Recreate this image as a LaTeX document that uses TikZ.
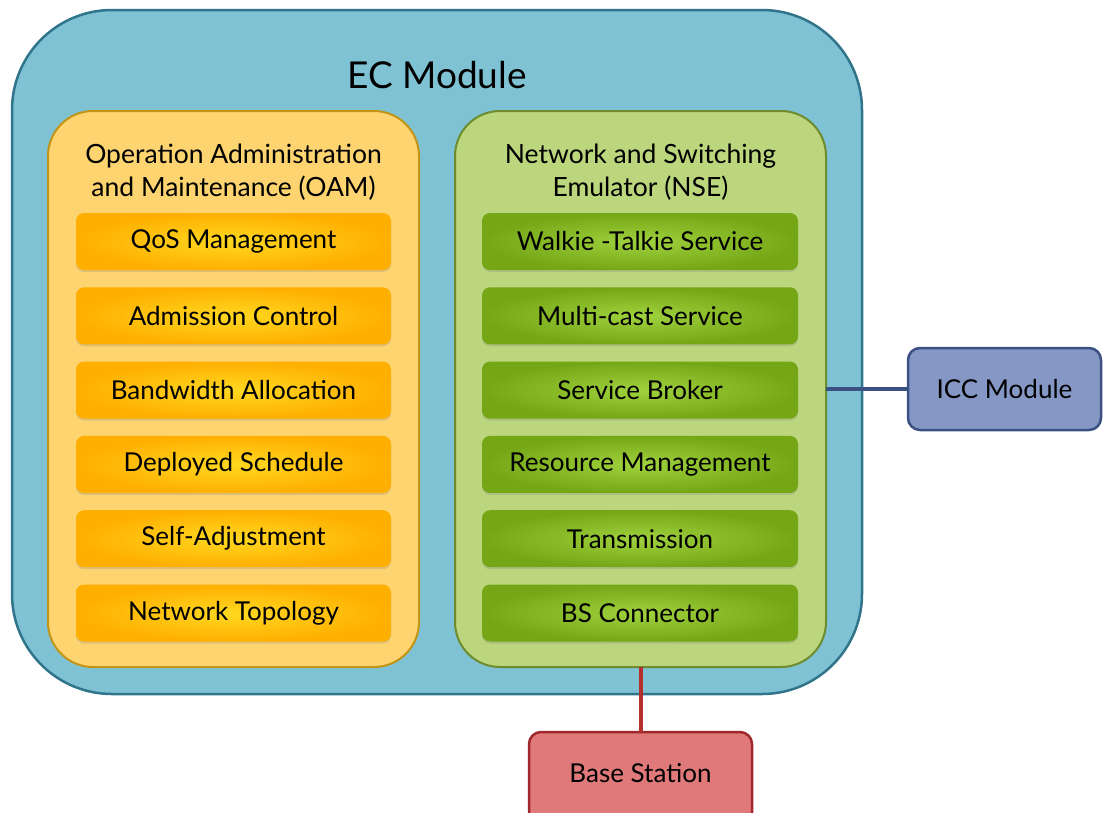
\documentclass[tikz,border=0pt]{standalone}
\usepackage{fontspec}
\setmainfont{Lato}
\usetikzlibrary{shadows}
\definecolor{ecfill}{HTML}{7EC2D3}
\definecolor{ecdraw}{HTML}{31758C}
\definecolor{oamfill}{HTML}{FDD470}
\definecolor{oamdraw}{HTML}{C29517}
\definecolor{nsefill}{HTML}{BBD67C}
\definecolor{nsedraw}{HTML}{6E8C2E}
\definecolor{orin}{HTML}{FFD820}
\definecolor{orout}{HTML}{FFAF00}
\definecolor{grin}{HTML}{A0D23E}
\definecolor{grout}{HTML}{74A616}
\definecolor{iccfill}{HTML}{8597C4}
\definecolor{iccdraw}{HTML}{3B5183}
\definecolor{bsfill}{HTML}{E07A7A}
\definecolor{bsdraw}{HTML}{A0282B}
\definecolor{bsline}{HTML}{B3302F}
\begin{document}
\begin{tikzpicture}[x=1pt,y=-1pt,
  every node/.style={inner sep=0pt, outer sep=0pt},
  bigtxt/.style={font=\fontsize{37}{42}\selectfont},
  ttltxt/.style={font=\fontsize{26.5}{33.5}\selectfont, align=center},
  itmtxt/.style={font=\fontsize{26}{30}\selectfont},
  ecbox/.style={draw=ecdraw, fill=ecfill, line width=2.5pt, rounded corners=100pt},
  oambox/.style={draw=oamdraw, fill=oamfill, line width=2pt, rounded corners=45pt},
  nsebox/.style={draw=nsedraw, fill=nsefill, line width=2pt, rounded corners=45pt},
  item/.style={itmtxt, rounded corners=8pt, minimum height=57pt,
     drop shadow={opacity=0.25, shadow xshift=0pt, shadow yshift=-2pt}},
  oamitem/.style={item, minimum width=315pt, shading=radial, inner color=orin, outer color=orout},
  nseitem/.style={item, minimum width=316pt, shading=radial, inner color=grin, outer color=grout},
  iccbox/.style={draw=iccdraw, fill=iccfill, line width=2.5pt, rounded corners=12pt, itmtxt},
  bsbox/.style={draw=bsdraw, fill=bsfill, line width=2.5pt, rounded corners=12pt},
  iccline/.style={draw=iccdraw, line width=3.5pt},
  bslinestyle/.style={draw=bsline, line width=4pt}]
\useasboundingbox (0,0) rectangle (1103,812);

% outer EC module
\node[ecbox, minimum width=850pt, minimum height=684pt] (ec) at (437,352) {};
\node[bigtxt] (ectitle) at (437,75) {EC Module};

% OAM
\node[oambox, minimum width=371pt, minimum height=556pt] (oam) at (233.5,389) {};
\node[ttltxt] (oamtitle) at (233.5,172) {Operation Administration\\and Maintenance (OAM)};
\node[oamitem] (o1) at (233.5,241.5) {QoS Management};
\node[oamitem] (o2) at (233.5,315.8) {Admission Control};
\node[oamitem] (o3) at (233.5,390.1) {Bandwidth Allocation};
\node[oamitem] (o4) at (233.5,464.4) {Deployed Schedule};
\node[oamitem] (o5) at (233.5,538.7) {Self-Adjustment};
\node[oamitem] (o6) at (233.5,613) {Network Topology};

% NSE
\node[nsebox, minimum width=371pt, minimum height=556pt] (nse) at (640.5,389) {};
\node[ttltxt] (nsetitle) at (640.5,172) {Network and Switching\\Emulator (NSE)};
\node[nseitem] (n1) at (640,241.5) {Walkie -Talkie Service};
\node[nseitem] (n2) at (640,315.8) {Multi-cast Service};
\node[nseitem] (n3) at (640,390.1) {Service Broker};
\node[nseitem] (n4) at (640,464.4) {Resource Management};
\node[nseitem] (n5) at (640,538.7) {Transmission};
\node[nseitem] (n6) at (640,613) {BS Connector};

% ICC module
\node[iccbox, minimum width=193pt, minimum height=82pt] (icc) at (1004.5,389) {ICC Module};
\draw[iccline] (nse.east) -- (icc.west);

% Base station
\node[bsbox, minimum width=223pt, minimum height=100pt, anchor=north] (bs) at (640.5,732) {};
\node[itmtxt] (bstxt) at (640.5,773) {Base Station};
\draw[bslinestyle] (nse.south) -- (bs.north);
\end{tikzpicture}
\end{document}
